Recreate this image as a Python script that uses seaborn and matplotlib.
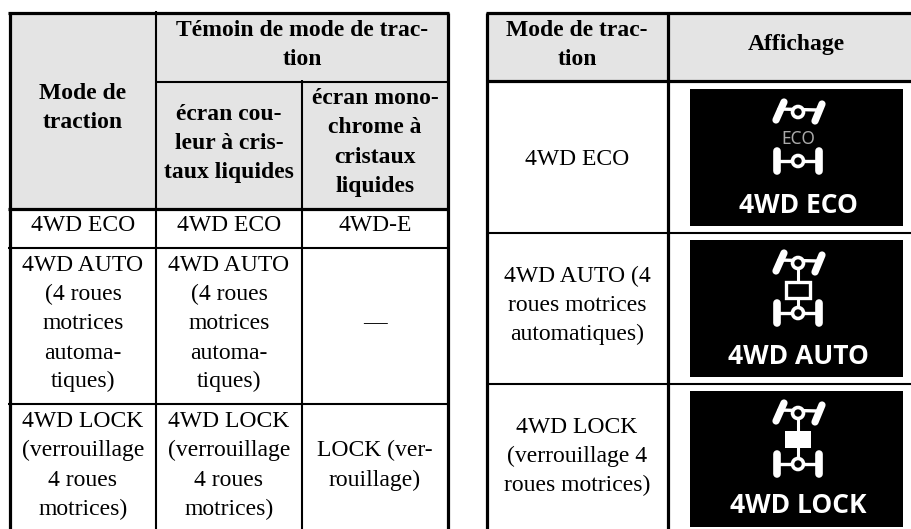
import pandas as pd
import matplotlib
matplotlib.use("Agg")
import matplotlib.pyplot as plt
from matplotlib.patches import Rectangle, Circle
import seaborn as sns

# table text, cell by cell
left_head_top = ["Témoin de mode de trac-", "tion"]
left_head_mode = ["Mode de", "traction"]
left_head_color = ["écran cou-", "leur à cris-", "taux liquides"]
left_head_mono = ["écran mono-", "chrome à", "cristaux", "liquides"]
row_eco = ["4WD ECO"]
mono_eco = ["4WD-E"]
row_auto = ["4WD AUTO", "(4 roues", "motrices", "automa-", "tiques)"]
mono_auto = ["—"]
row_lock = ["4WD LOCK", "(verrouillage", "4 roues", "motrices)"]
mono_lock = ["LOCK (ver-", "rouillage)"]

right_head_mode = ["Mode de trac-", "tion"]
right_head_show = ["Affichage"]
right_eco = ["4WD ECO"]
right_auto = ["4WD AUTO (4", "roues motrices", "automatiques)"]
right_lock = ["4WD LOCK", "(verrouillage 4", "roues motrices)"]
panel_labels = ["4WD ECO", "4WD AUTO", "4WD LOCK"]

sns.set_theme(style="white")
plt.rcParams["font.family"] = ["Liberation Serif", "DejaVu Sans"]
plt.rcParams["lines.solid_capstyle"] = "butt"

W, H = 912, 529
fig = plt.figure(figsize=(W / 100, H / 100), dpi=100)
ax = fig.add_axes([0, 0, 1, 1])
ax.set_xlim(0, W)
ax.set_ylim(H, 0)
ax.axis("off")

GRAY = "#e4e4e4"
FS = 17


def put(lines, x, baselines, bold=False):
    for line, y in zip(lines, baselines):
        ax.text(x, y - 1, line, ha="center", va="baseline", fontsize=FS, color="black",
                fontweight="bold" if bold else "normal")


# header backgrounds
ax.add_patch(Rectangle((10, 13), 439, 195, color=GRAY, lw=0))
ax.add_patch(Rectangle((486, 13), 426, 68, color=GRAY, lw=0))

# rules as x0, x1, y0, y1
thick_rules = [
    (8.5, 449, 13, 13), (8, 449, 208.5, 208.5), (10.5, 10.5, 13, 529), (448, 448, 13, 529),
    (486, 912, 13, 13), (486, 912, 81, 81), (487, 487, 13, 529), (668, 668, 13, 529),
]
thin_rules = [
    (156, 449, 81.5, 81.5), (8, 449, 247.5, 247.5), (8, 449, 404, 404),
    (156, 156, 11, 529), (302, 302, 80, 529),
    (486, 912, 232.5, 232.5), (486, 912, 383.5, 383.5),
]


def rule_frame(rules):
    rows = []
    for i, (x0, x1, y0, y1) in enumerate(rules):
        rows.append({"rule": i, "x": x0, "y": y0})
        rows.append({"rule": i, "x": x1, "y": y1})
    return pd.DataFrame(rows)


sns.lineplot(data=rule_frame(thick_rules), x="x", y="y", units="rule", estimator=None,
             sort=False, color="black", lw=2.3, ax=ax)
sns.lineplot(data=rule_frame(thin_rules), x="x", y="y", units="rule", estimator=None,
             sort=False, color="black", lw=1.5, ax=ax)
ax.set_xlim(0, W)
ax.set_ylim(H, 0)
ax.axis("off")

# left table
put(left_head_top, 302, [37, 66], bold=True)
put(left_head_mode, 83, [100, 129], bold=True)
put(left_head_color, 229, [121, 150, 179], bold=True)
put(left_head_mono, 375, [105, 134, 164, 193], bold=True)
put(row_eco, 83, [232])
put(row_eco, 229, [232])
put(mono_eco, 375, [232])
auto_y = [272, 301, 330, 360, 388]
put(row_auto, 83, auto_y)
put(row_auto, 229, auto_y)
put(mono_auto, 375, [330])
lock_y = [428, 457, 487, 516]
put(row_lock, 83, lock_y)
put(row_lock, 229, lock_y)
put(mono_lock, 375, [457, 487])

# right table
put(right_head_mode, 577, [37, 66], bold=True)
put(right_head_show, 796, [51], bold=True)
put(right_eco, 577, [166])
put(right_auto, 577, [283, 312, 341])
put(right_lock, 577, [434, 463, 492])


def axle(cx, cy, tilted):
    white = dict(color="white", solid_capstyle="round")
    if tilted:
        ax.plot([cx - 22, cx - 14], [cy + 8, cy - 10], lw=5.2, **white)
        ax.plot([cx + 17, cx + 24], [cy + 9, cy - 8], lw=5.2, **white)
        ax.plot([cx - 19, cx + 20], [cy - 3, cy - 2], lw=2.4, **white)
    else:
        ax.plot([cx - 21, cx - 21], [cy - 10, cy + 10], lw=5.5, **white)
        ax.plot([cx + 21, cx + 21], [cy - 10, cy + 10], lw=5.5, **white)
        ax.plot([cx - 21, cx + 21], [cy, cy], lw=2.4, **white)
    ax.add_patch(Circle((cx, cy), 5.5, facecolor="black", edgecolor="white", lw=2.6, zorder=3))


panels = [(690, 89, 137), (690, 240, 137), (690, 391, 136)]
for (px, py, ph), label, base in zip(panels, panel_labels, [213, 364, 513]):
    ax.add_patch(Rectangle((px, py), 213, ph, color="black", lw=0))
    ax.text(798.5, base, label, ha="center", va="baseline", color="white", fontsize=19,
            family=["Open Sans"], fontweight="bold")

# 4WD ECO glyph
axle(798, 112, True)
axle(798, 161, False)
ax.text(798, 144, "ECO", ha="center", va="baseline", color="#aaaaaa", fontsize=12.5, family=["Noto Sans"])

# 4WD AUTO glyph, hollow box
ax.plot([798, 798], [263, 313], color="white", lw=2.2)
axle(798, 263, True)
axle(798, 313, False)
ax.add_patch(Rectangle((786, 282), 24, 16, facecolor="black", edgecolor="white", lw=2.4, zorder=3))

# 4WD LOCK glyph, filled box
ax.plot([798, 798], [413, 464], color="white", lw=2.2)
axle(798, 413, True)
axle(798, 464, False)
ax.add_patch(Rectangle((785, 431), 26, 17, color="white", lw=0, zorder=3))

fig.savefig("out.png", dpi=100, facecolor="white")
